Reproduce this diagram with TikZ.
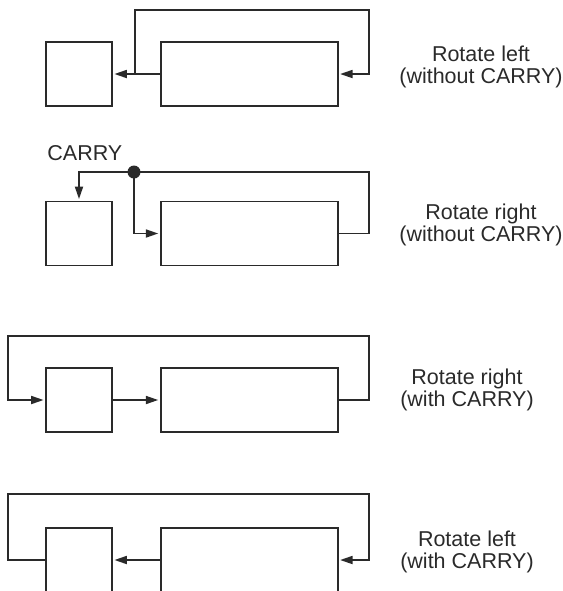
\documentclass[tikz,border=0pt]{standalone}
\usepackage{fontspec}
\setmainfont{Liberation Sans}
\usepackage{xcolor}
\usepackage{tikz}
\usetikzlibrary{arrows.meta,positioning}
\definecolor{ldark}{HTML}{2A2A2A}

\tikzset{
  regbox/.style={draw=ldark,line width=0.85pt,minimum width=88.5pt,minimum height=32pt,inner sep=0pt},
  carrybox/.style={draw=ldark,line width=0.85pt,minimum width=33pt,minimum height=32pt,inner sep=0pt},
  conn/.style={draw=ldark,line width=0.85pt},
  arr/.style={conn,shorten >=0.8pt,-{Triangle[length=6.2pt,width=4pt]}},
  rotlabel/.style={align=center,inner sep=0pt,text=ldark,font=\fontsize{10.75pt}{10.8pt}\selectfont}
}

\begin{document}
\begin{tikzpicture}[x=0.5pt,y=-0.5pt]
  \useasboundingbox (0,0) rectangle (563,591);

  % rotate left, without carry
  \node[carrybox] (c1) at (79,74) {};
  \node[regbox,right=23.5pt of c1] (r1) {};
  \coordinate (up1) at (369,10);
  \draw[arr] (r1.west) -- (c1.east);
  \draw[arr] ([xshift=-12.5pt]r1.west) |- (up1) |- (r1.east);
  \node[rotlabel] (lab1) at (481,67) {Rotate left\\(without CARRY)};

  % rotate right, without carry
  \node[carrybox] (c2) at (79,233.5) {};
  \node[regbox,right=23.5pt of c2] (r2) {};
  \coordinate (up2) at (369,172);
  \coordinate (dot) at (134,172);
  \draw[arr] (r2.east) -| (up2) -| (c2.north);
  \draw[arr] (dot) |- (r2.west);
  \fill[ldark] (dot) circle (3.25pt);
  \node[rotlabel,anchor=base west] (carry) at (47,160) {CARRY};
  \node[rotlabel] (lab2) at (481,225) {Rotate right\\(without CARRY)};

  % rotate right, with carry
  \node[carrybox] (c3) at (79,400) {};
  \node[regbox,right=23.5pt of c3] (r3) {};
  \coordinate (up3) at (369,336);
  \coordinate (lt3) at (8,336);
  \draw[arr] (c3.east) -- (r3.west);
  \draw[arr] (r3.east) -| (up3) -- (lt3) |- (c3.west);
  \node[rotlabel] (lab3) at (467,390) {Rotate right\\(with CARRY)};

  % rotate left, with carry
  \node[carrybox] (c4) at (79,560) {};
  \node[regbox,right=23.5pt of c4] (r4) {};
  \coordinate (up4) at (369,494);
  \coordinate (lt4) at (8,494);
  \draw[arr] (r4.west) -- (c4.east);
  \draw[arr] (c4.west) -| (lt4) -- (up4) |- (r4.east);
  \node[rotlabel] (lab4) at (467,552) {Rotate left\\(with CARRY)};
\end{tikzpicture}
\end{document}
